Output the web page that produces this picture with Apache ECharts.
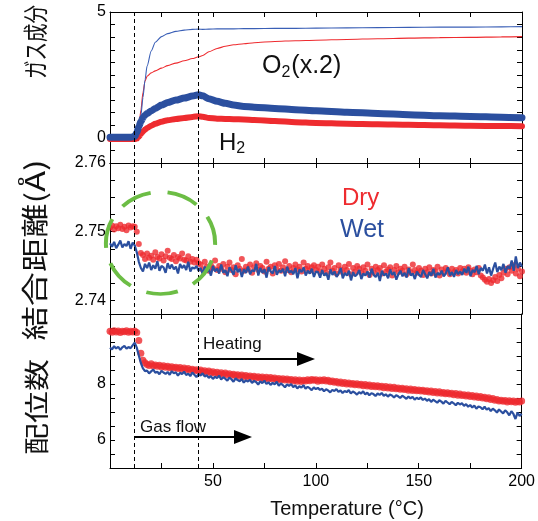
<!DOCTYPE html>
<html><head><meta charset="utf-8">
<script src="https://cdn.jsdelivr.net/npm/echarts@6/dist/echarts.min.js"></script>
<style>html,body{margin:0;padding:0;background:#fff}#c{width:538px;height:521px}</style>
</head><body><div id="c"></div>
<script>
// ---- data ----
const gasTemps = [0,5,10,12,13,14,15,16,17,18,20,22,25,28,32,36,40,43,45,48,52,56,60,65,70,80,90,100,115,130,145,160,175,190,200];
const o2Wet = [0,0,0,0.01,0.03,0.3,0.9,1.6,2.3,2.85,3.45,3.8,4.02,4.14,4.23,4.28,4.31,4.32,4.31,4.32,4.33,4.33,4.33,4.34,4.34,4.35,4.35,4.36,4.37,4.38,4.39,4.40,4.40,4.41,4.42];
const o2Dry = [0,0,0,0,0.02,0.4,1.1,1.8,2.25,2.45,2.58,2.66,2.77,2.87,2.97,3.06,3.15,3.22,3.27,3.42,3.55,3.64,3.70,3.74,3.78,3.83,3.86,3.88,3.91,3.94,3.96,3.98,3.99,4.01,4.02];
const h2Wet = [0.02,0.02,0.02,0.05,0.2,0.45,0.65,0.8,0.9,0.97,1.07,1.17,1.3,1.4,1.5,1.58,1.66,1.71,1.67,1.55,1.45,1.37,1.3,1.25,1.22,1.17,1.12,1.08,1.02,0.97,0.92,0.88,0.85,0.82,0.80];
const h2Dry = [-0.05,-0.05,-0.05,-0.05,-0.03,0.05,0.15,0.25,0.33,0.39,0.48,0.56,0.64,0.70,0.75,0.79,0.83,0.86,0.84,0.79,0.76,0.75,0.74,0.73,0.71,0.67,0.62,0.59,0.56,0.54,0.52,0.50,0.48,0.47,0.46];

// measurement temperatures for the diffraction data: 0..200 °C, 1 °C step
const measTemps = Array.from({length: 201}, (_, i) => i);

const distWet = [2.7483,2.7478,2.7485,2.7476,2.7481,2.7487,2.7477,2.7482,2.7479,2.7486,2.7475,2.7484,
2.7480,2.7470,2.7456,2.7447,
2.7442,2.7453,2.7447,2.7455,2.7444,2.7451,2.7446,2.7457,2.7443,2.7450,2.7448,2.7440,2.7454,2.7446,2.7452,2.7445,2.7449,2.7439,2.7453,2.7447,2.7451,2.7444,2.7456,2.7442,2.7448,2.7446,2.7450,2.7443,
2.7447,2.7438,2.7449,2.7441,2.7445,2.7436,2.7450,2.7442,2.7446,2.7439,
2.7452,2.7440,2.7444,2.7435,2.7448,2.7443,2.7437,2.7451,2.7441,2.7446,
2.7434,2.7445,2.7440,2.7449,2.7438,2.7444,2.7442,2.7453,2.7436,2.7447,
2.7440,2.7445,2.7433,2.7448,2.7442,2.7439,2.7450,2.7437,2.7444,2.7441,
2.7446,2.7435,2.7449,2.7440,2.7443,2.7438,2.7447,2.7432,2.7445,2.7441,
2.7448,2.7436,2.7443,2.7439,2.7446,2.7434,2.7442,
2.7441,2.7433,2.7444,2.7436,2.7440,2.7430,2.7445,2.7437,2.7442,2.7434,
2.7439,2.7447,2.7432,2.7440,2.7436,2.7443,2.7429,2.7441,2.7435,2.7438,
2.7444,2.7431,2.7439,2.7436,2.7442,2.7433,2.7446,2.7437,2.7434,2.7440,
2.7428,2.7443,2.7436,2.7439,2.7432,2.7445,2.7437,2.7441,2.7430,2.7438,
2.7443,2.7435,2.7440,2.7433,2.7447,2.7436,2.7439,2.7431,2.7442,2.7437,
2.7434,2.7444,2.7438,2.7432,2.7441,2.7436,2.7446,2.7433,2.7440,2.7437,
2.7443,2.7435,2.7439,2.7448,2.7436,2.7441,2.7434,2.7444,2.7438,2.7442,
2.7437,2.7446,2.7440,2.7449,2.7435,2.7444,2.7441,2.7450,2.7438,2.7447,
2.7443,2.7452,2.7439,2.7448,2.7436,2.7446,2.7455,2.7441,2.7449,2.7444,
2.7453,2.7440,2.7450,2.7446,2.7458,2.7443,2.7464,2.7447,2.7455,2.7449];

const distDry = [2.7506,2.7509,2.7503,2.7508,2.7505,2.7510,2.7504,2.7507,2.7502,2.7509,2.7506,2.7508,
2.7507,2.7500,2.7482,2.7469,
2.7466,2.7460,2.7468,2.7462,2.7465,2.7459,2.7470,2.7463,2.7461,2.7467,
2.7458,2.7464,2.7472,2.7462,2.7460,2.7466,2.7457,2.7463,2.7461,2.7468,
2.7459,2.7458,2.7464,2.7456,2.7460,2.7455,2.7459,2.7454,
2.7452,2.7445,2.7456,2.7449,2.7443,2.7451,2.7447,2.7458,2.7444,2.7450,
2.7446,2.7453,2.7441,2.7449,2.7455,2.7444,2.7448,2.7438,2.7451,2.7446,
2.7460,2.7443,2.7449,2.7445,2.7452,2.7440,2.7448,2.7454,2.7444,2.7450,
2.7447,2.7442,2.7456,2.7446,2.7449,2.7439,2.7451,2.7445,2.7453,2.7443,
2.7448,2.7457,2.7444,2.7450,2.7441,2.7447,2.7452,2.7445,2.7449,2.7442,
2.7455,2.7446,2.7450,2.7443,2.7448,2.7451,2.7444,
2.7449,2.7442,2.7452,2.7446,2.7440,2.7448,2.7455,2.7443,2.7447,2.7439,
2.7451,2.7445,2.7441,2.7449,2.7444,2.7453,2.7438,2.7447,2.7442,2.7450,
2.7446,2.7440,2.7448,2.7443,2.7452,2.7437,2.7446,2.7441,2.7449,2.7444,
2.7447,2.7439,2.7451,2.7442,2.7445,2.7448,2.7436,2.7444,2.7450,2.7441,
2.7446,2.7443,2.7449,2.7438,2.7445,2.7441,2.7452,2.7444,2.7440,2.7447,
2.7443,2.7437,2.7446,2.7441,2.7448,2.7439,2.7444,2.7442,2.7449,2.7436,
2.7445,2.7440,2.7447,2.7443,2.7438,2.7446,2.7441,2.7444,2.7439,2.7447,
2.7442,2.7446,2.7440,2.7448,2.7443,2.7438,2.7445,2.7441,2.7447,2.7436,
2.7433,2.7430,2.7427,2.7431,2.7425,2.7429,2.7434,2.7428,2.7437,2.7432,
2.7440,2.7446,2.7438,2.7448,2.7443,2.7451,2.7439,2.7446,2.7435,2.7442];

const coordDry = [9.88,9.85,9.90,9.86,9.89,9.84,9.88,9.87,9.90,9.85,9.88,9.86,9.89,
9.84,9.55,9.10,8.85,8.76,
8.70,8.66,8.72,8.65,8.68,8.63,8.67,8.61,8.65,8.60,
8.63,8.58,8.62,8.57,8.60,8.55,8.59,8.53,8.57,8.52,
8.55,8.49,8.53,8.48,8.51,8.46,8.50,8.44,8.47,
8.42,8.46,8.40,8.44,8.38,8.42,8.36,8.40,8.35,8.39,
8.33,8.37,8.31,8.35,8.30,8.33,8.28,8.32,8.27,8.30,
8.25,8.29,8.24,8.28,8.22,8.26,8.21,8.25,8.20,8.24,
8.19,8.23,8.18,8.21,8.16,8.20,8.15,8.19,8.14,8.18,
8.13,8.16,8.11,8.15,8.10,8.14,8.09,8.13,8.11,8.15,
8.12,8.16,8.13,8.15,
8.10,8.14,8.12,8.15,8.11,8.13,8.08,8.11,8.06,8.09,
8.04,8.07,8.02,8.05,8.00,8.04,7.99,8.02,7.97,8.01,
7.96,7.99,7.94,7.98,7.93,7.96,7.91,7.95,7.90,7.94,
7.89,7.92,7.87,7.91,7.86,7.89,7.84,7.88,7.83,7.86,
7.81,7.85,7.80,7.83,7.78,7.82,7.77,7.80,7.76,7.79,
7.75,7.78,7.73,7.76,7.71,7.75,7.70,7.73,7.68,7.72,
7.67,7.70,7.65,7.69,7.64,7.67,7.62,7.66,7.60,7.64,
7.59,7.62,7.57,7.61,7.55,7.59,7.54,7.57,7.52,7.55,
7.50,7.53,7.47,7.51,7.45,7.48,7.42,7.45,7.39,7.42,
7.38,7.41,7.36,7.40,7.37,7.39,7.35,7.38,7.36,7.39];

const coordWet = [9.30,9.24,9.35,9.27,9.33,9.22,9.31,9.36,9.26,9.32,9.28,9.38,
9.48,9.30,9.02,8.75,8.56,8.46,
8.48,8.38,8.45,8.52,8.40,8.44,8.35,8.47,8.41,8.36,
8.43,8.33,8.46,8.38,8.42,8.30,8.40,8.36,8.44,8.32,
8.37,8.28,8.41,8.33,8.25,8.35,8.30,8.38,8.27,
8.31,8.22,8.28,8.18,8.26,8.21,8.30,8.16,8.24,8.19,
8.12,8.23,8.17,8.08,8.20,8.14,8.10,8.18,8.05,8.13,
8.09,8.15,8.04,8.11,8.07,7.98,8.10,8.03,8.12,8.00,
8.06,7.97,8.04,7.99,8.08,7.94,8.02,7.96,7.88,7.99,
7.93,8.00,7.89,7.95,7.84,7.92,7.87,7.96,7.83,7.90,
7.85,7.78,7.88,7.82,
7.86,7.79,7.83,7.74,7.81,7.77,7.70,7.79,7.75,7.82,
7.72,7.77,7.68,7.75,7.71,7.78,7.66,7.73,7.69,7.62,
7.71,7.66,7.74,7.63,7.69,7.60,7.67,7.64,7.57,7.66,
7.61,7.68,7.58,7.63,7.55,7.62,7.59,7.52,7.60,7.56,
7.50,7.58,7.53,7.47,7.55,7.49,7.54,7.44,7.51,7.46,
7.52,7.43,7.48,7.40,7.46,7.36,7.44,7.39,7.33,7.42,
7.37,7.30,7.40,7.34,7.28,7.36,7.31,7.24,7.33,7.27,
7.31,7.22,7.28,7.19,7.25,7.16,7.23,7.12,7.20,7.17,
7.10,7.19,7.08,7.14,7.03,7.12,7.06,6.98,7.09,7.02,
6.95,7.06,6.99,6.88,7.03,6.93,6.75,6.98,6.86,6.94];

const eventTemps = [11.65, 42.9];          // gas flow start, heating start
const xLabelTicks = [50, 100, 150, 200];
const gasLabelTicks = [0, 5];
const distTicks = [2.74, 2.7425, 2.745, 2.7475, 2.75, 2.7525, 2.755, 2.7575, 2.76];
const distLabelTicks = [2.74, 2.75, 2.76];
const coordLabelTicks = [6, 8];

// ---- chart ----
const RED = '#ee2b2f', BLUE = '#2b4f9f';
const FONT = 'Liberation Sans, Arial, sans-serif';
const JP = 'Noto Sans CJK JP, sans-serif';
const pair = (xs, ys) => ys.map((v, i) => [xs[i], v]);

const grids = [
  {left: 110, right: 16, top: 12, height: 151},
  {left: 110, right: 16, top: 163, height: 151},
  {left: 110, right: 16, top: 314, height: 154}
];
const lineAx = {show: true, onZero: false, lineStyle: {color: '#000', width: 1}};
const tickAx = {show: true, inside: true, length: 5, lineStyle: {color: '#000', width: 1}};
const lbl = {color: '#000', fontSize: 16, fontFamily: FONT};

const xAxes = [], yAxes = [];
for (let g = 0; g < 3; g++) {
  xAxes.push({gridIndex: g, type: 'value', min: 0, max: 200, interval: 25, position: 'bottom',
    axisLine: lineAx, axisTick: tickAx, splitLine: {show: false},
    axisLabel: Object.assign({show: g === 2, margin: 6,
      formatter: v => xLabelTicks.includes(v) ? String(v) : ''}, lbl)});
  xAxes.push({gridIndex: g, type: 'value', min: 0, max: 200, interval: 25, position: 'top',
    axisLine: lineAx, axisTick: tickAx, splitLine: {show: false}, axisLabel: {show: false}});
}
yAxes.push({gridIndex: 0, type: 'value', min: -1, max: 5, interval: 0.5, position: 'left',
  axisLine: lineAx, axisTick: tickAx, splitLine: {show: false},
  axisLabel: Object.assign({margin: 4, formatter: v => gasLabelTicks.includes(v) ? String(v) : ''}, lbl)});
yAxes.push({gridIndex: 0, type: 'value', min: -1, max: 5, interval: 0.5, position: 'right',
  axisLine: lineAx, axisTick: tickAx, splitLine: {show: false}, axisLabel: {show: false}});
yAxes.push({gridIndex: 1, type: 'value', min: 2.738, max: 2.76, position: 'left',
  axisLine: lineAx, axisTick: Object.assign({customValues: distTicks}, tickAx), splitLine: {show: false},
  axisLabel: Object.assign({margin: 4, customValues: distLabelTicks, formatter: v => v.toFixed(2)}, lbl)});
yAxes.push({gridIndex: 1, type: 'value', min: 2.738, max: 2.76, position: 'right',
  axisLine: lineAx, axisTick: Object.assign({customValues: distTicks}, tickAx), splitLine: {show: false}, axisLabel: {show: false}});
yAxes.push({gridIndex: 2, type: 'value', min: 5, max: 10.5, interval: 0.5, position: 'left',
  axisLine: lineAx, axisTick: tickAx, splitLine: {show: false},
  axisLabel: Object.assign({margin: 4, formatter: v => coordLabelTicks.includes(v) ? String(v) : ''}, lbl)});
yAxes.push({gridIndex: 2, type: 'value', min: 5, max: 10.5, interval: 0.5, position: 'right',
  axisLine: lineAx, axisTick: tickAx, splitLine: {show: false}, axisLabel: {show: false}});

const vLines = {symbol: 'none', silent: true, label: {show: false},
  lineStyle: {type: [4, 3], color: '#000', width: 1}, emphasis: {disabled: true},
  data: eventTemps.map(t => ({xAxis: t}))};

const smoothCfg = {smooth: 0.25, smoothMonotone: 'x'};
const series = [
  Object.assign({type: 'line', xAxisIndex: 0, yAxisIndex: 0, data: pair(gasTemps, o2Dry), showSymbol: false,
   lineStyle: {color: RED, width: 1.1}, itemStyle: {color: RED}, markLine: vLines, z: 2}, smoothCfg),
  Object.assign({type: 'line', xAxisIndex: 0, yAxisIndex: 0, data: pair(gasTemps, o2Wet), showSymbol: false,
   lineStyle: {color: '#3a5fb6', width: 1.1}, itemStyle: {color: BLUE}, z: 2}, smoothCfg),
  Object.assign({type: 'line', xAxisIndex: 0, yAxisIndex: 0, data: pair(gasTemps, h2Dry), showSymbol: false,
   lineStyle: {color: RED, width: 6, cap: 'round'}, itemStyle: {color: RED}, z: 3}, smoothCfg),
  Object.assign({type: 'line', xAxisIndex: 0, yAxisIndex: 0, data: pair(gasTemps, h2Wet), showSymbol: false,
   lineStyle: {color: BLUE, width: 7, cap: 'round'}, itemStyle: {color: BLUE}, z: 4}, smoothCfg),

  {type: 'scatter', xAxisIndex: 2, yAxisIndex: 2, data: pair(measTemps, distDry), symbolSize: 6,
   itemStyle: {color: RED}, markLine: vLines, z: 2},
  {type: 'line', xAxisIndex: 2, yAxisIndex: 2, data: pair(measTemps, distWet), showSymbol: false,
   lineStyle: {color: BLUE, width: 2.2}, itemStyle: {color: BLUE}, z: 3},

  {type: 'scatter', xAxisIndex: 4, yAxisIndex: 4, data: pair(measTemps, coordDry), symbolSize: 7,
   itemStyle: {color: RED}, markLine: vLines, z: 2},
  {type: 'line', xAxisIndex: 4, yAxisIndex: 4, data: pair(measTemps, coordWet), showSymbol: false,
   lineStyle: {color: BLUE, width: 2.2}, itemStyle: {color: BLUE}, z: 3}
];

const txt = (text, x, y, size, color) => ({type: 'text', x, y, z: 100,
  style: {text, fontSize: size, fontFamily: FONT, fill: color, textAlign: 'left', textVerticalAlign: 'middle'}});
// rotated axis titles; scaleX stretches along the reading direction
const vtxt = (text, x, y, size, sx) => ({type: 'text', x, y, rotation: Math.PI / 2, scaleX: sx, z: 100,
  style: {text, fontSize: size, fontFamily: JP, fill: '#111', textAlign: 'center', textVerticalAlign: 'middle'}});

const graphic = [
  vtxt('ガス成分', 35, 42, 25, 0.74),
  vtxt('結合距離(Å)', 35, 250, 27, 1.27),
  vtxt('配位数', 36, 407, 25, 1.28),
  {type: 'text', x: 347, y: 509, z: 100,
   style: {text: 'Temperature (°C)', fontSize: 20, fontFamily: FONT, fill: '#111', textAlign: 'center', textVerticalAlign: 'middle'}},
  {type: 'text', x: 262, y: 66, z: 100,
   style: {text: '{a|O}{b|2}{a|(x.2)}', fontFamily: FONT, fill: '#111', textAlign: 'left', textVerticalAlign: 'middle',
     rich: {a: {fontSize: 25, fontFamily: FONT, fill: '#111', lineHeight: 30, verticalAlign: 'middle'},
            b: {fontSize: 16, fontFamily: FONT, fill: '#111', lineHeight: 30, verticalAlign: 'bottom', padding: [0, 1, 0, 0]}}}},
  {type: 'text', x: 219, y: 143, z: 100,
   style: {text: '{a|H}{b|2}', fontFamily: FONT, fill: '#111', textAlign: 'left', textVerticalAlign: 'middle',
     rich: {a: {fontSize: 24, fontFamily: FONT, fill: '#111', lineHeight: 28, verticalAlign: 'middle'},
            b: {fontSize: 16, fontFamily: FONT, fill: '#111', lineHeight: 28, verticalAlign: 'bottom'}}}},
  txt('Dry', 342, 198, 24, RED),
  txt('Wet', 340, 230, 25, BLUE),
  txt('Heating', 203, 344, 17, '#111'),
  txt('Gas flow', 140, 427, 17, '#111'),
  {type: 'line', z: 100, shape: {x1: 198, y1: 359, x2: 300, y2: 359}, style: {stroke: '#000', lineWidth: 2}},
  {type: 'polygon', z: 100, shape: {points: [[315, 359], [297, 352], [297, 366]]}, style: {fill: '#000'}},
  {type: 'line', z: 100, shape: {x1: 134, y1: 437, x2: 238, y2: 437}, style: {stroke: '#000', lineWidth: 2}},
  {type: 'polygon', z: 100, shape: {points: [[252, 437], [234, 430], [234, 444]]}, style: {fill: '#000'}},
  {type: 'circle', z: 100, x: 160.5, y: 243, scaleY: 51 / 54.6, shape: {cx: 0, cy: 0, r: 54.6},
   style: {fill: 'none', stroke: '#6cbd45', lineWidth: 4, lineDash: [32, 17], lineDashOffset: 30}}
];

const chart = echarts.init(document.getElementById('c'), null, {renderer: 'canvas'});
chart.setOption({animation: false, backgroundColor: '#fff', grid: grids, xAxis: xAxes, yAxis: yAxes,
  series, graphic});
</script></body></html>
